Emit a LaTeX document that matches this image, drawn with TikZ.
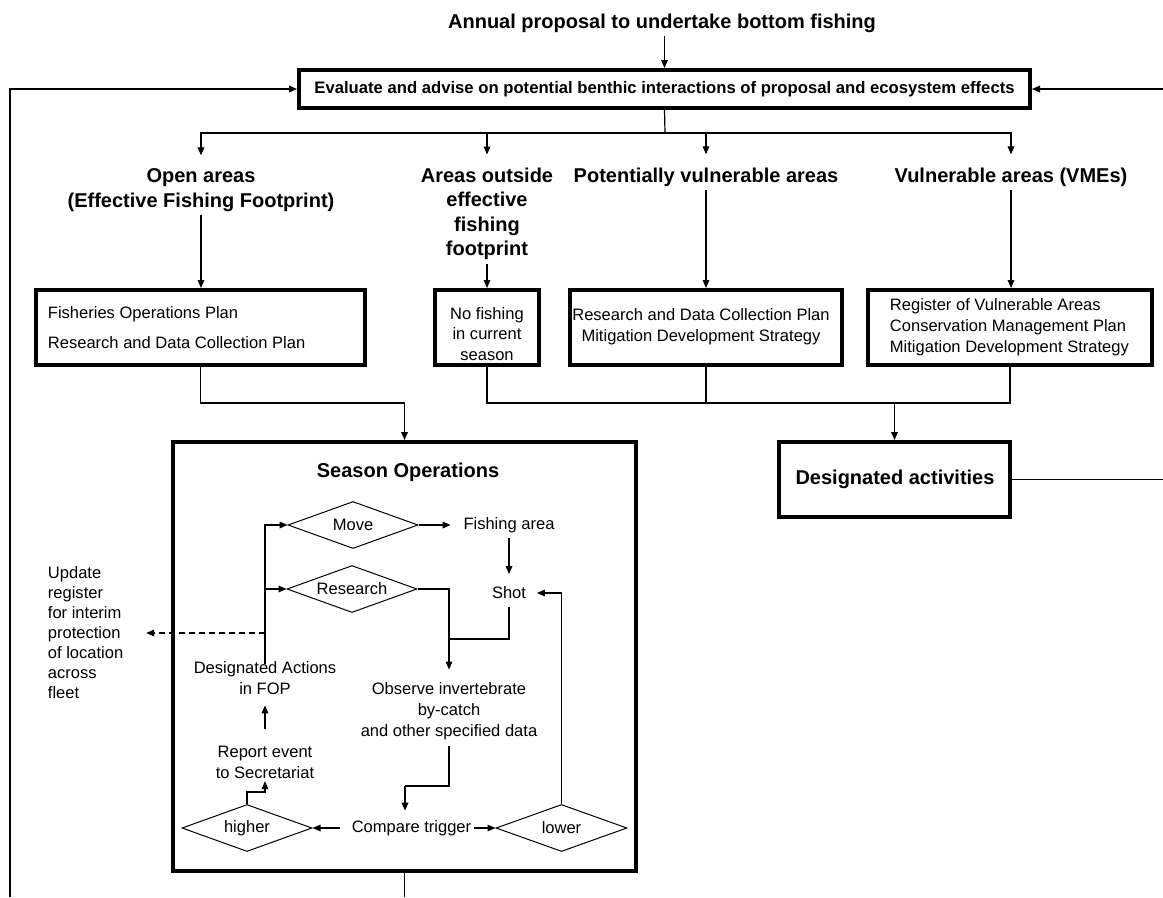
\documentclass[tikz,border=0pt]{standalone}
\usepackage{fontspec}
\setmainfont{Liberation Sans}
\usetikzlibrary{arrows.meta,fit,shapes.geometric}
\begin{document}
\begin{tikzpicture}[x=0.75pt,y=-0.75pt,
 hdr/.style={font=\bfseries\fontsize{15}{18.4}\selectfont, align=center, inner sep=0pt, outer sep=3pt},
 txt/.style={font=\fontsize{12.4}{15.6}\selectfont, align=center, inner sep=2pt},
 tbox/.style={draw, line width=3pt, inner sep=0pt},
 dia/.style={draw, diamond, aspect=2.77, line width=0.75pt, minimum width=97.5pt, minimum height=35.25pt, inner sep=0pt, font=\fontsize{12.4}{15.6}\selectfont},
 ln/.style={line width=0.9pt},
 arr/.style={line width=0.9pt, -{Triangle[length=6pt,width=5pt]}}]

\useasboundingbox (0,0) rectangle (1163,897);
\fill[white] (0,0) rectangle (1163,897);

% top
\node[hdr] (title) at (662,23) {Annual proposal to undertake bottom fishing};
\node[tbox, fit={(299,70) (1030,108)}] (eval) {};
\node[font=\bfseries\fontsize{12.5}{15}\selectfont, inner sep=0pt] (evaltxt) at (eval.center) {Evaluate and advise on potential benthic interactions of proposal and ecosystem effects};

% headers
\node[hdr] (open) at (201,190) {Open areas\\(Effective Fishing Footprint)};
\node[hdr] (outside) at (487,214) {Areas outside\\effective\\fishing\\footprint};
\node[hdr] (pot) at (706,177) {Potentially vulnerable areas};
\node[hdr] (vme) at (1011,177) {Vulnerable areas (VMEs)};

% second row boxes
\node[tbox, fit={(36,290) (365,365)}] (fop) {};
\node[txt, anchor=west, align=left, font=\fontsize{12.4}{22.5}\selectfont] (foptxt) at (45,328) {Fisheries Operations Plan\\Research and Data Collection Plan};
\node[tbox, fit={(435,290) (539,365)}] (nofish) {};
\node[txt] (nofishtxt) at (487,334) {No fishing\\in current\\season};
\node[tbox, fit={(570,290) (842,365)}] (box3) {};
\node[txt] (box3txt) at (701,327) {Research and Data Collection Plan\\Mitigation Development Strategy};
\node[tbox, fit={(868,290) (1152,365)}] (vmebox) {};
\node[txt, anchor=west, align=left] (vmetxt) at (887,327) {Register of Vulnerable Areas\\Conservation Management Plan\\Mitigation Development Strategy};

% season operations
\node[tbox, fit={(173,442) (636,871)}] (season) {};
\node[hdr, outer sep=0pt] (stitle) at (408,472) {Season Operations};
\node[tbox, fit={(779,442) (1010,517)}] (desig) {};
\node[hdr, outer sep=0pt] (desigtxt) at (895,479) {Designated activities};

\node[dia] (move) at (353,525) {Move};
\node[dia] (research) at (352,589) {Research};
\node[dia] (higher) at (247,828) {higher};
\node[dia, minimum width=98.25pt] (lower) at (561.5,828) {lower};

\node[txt] (fish) at (509,525) {Fishing area};
\node[txt] (shot) at (509,593) {Shot};
\node[txt] (obs) at (449,711) {Observe invertebrate\\by-catch\\and other specified data};
\node[txt] (cmp) at (411.5,828) {Compare trigger};
\node[txt] (report) at (265,762) {Report event\\to Secretariat};
\node[txt] (desact) at (265,678) {Designated Actions\\in FOP};
\node[txt, anchor=west, align=left, font=\fontsize{12.4}{15}\selectfont] (update) at (45,633) {Update\\register\\for interim\\protection\\of location\\across\\fleet};

% coordinates
\coordinate (lb) at (10,897);
\coordinate (rt) at (1163,89);
\coordinate (rd) at (1163,480);
\coordinate (br) at (665,133);
\coordinate (fj) at (404.5,403);
\coordinate (dj) at (894.5,403);
\coordinate (sj) at (449,639);
\coordinate (oj) at (405,786);
\coordinate (hj) at (247,792);
\coordinate (dsh) at (265,633);
\coordinate (sb) at (404.5,897);

% outer connectors
\draw[arr] (title.south -| eval.north) -- (eval.north);
\draw[arr] (lb) |- (eval.west);
\draw[arr] (rt) -- (eval.east);
\draw[ln] (desig.east) -- (desig.east -| rd);
\draw[ln] (eval.south) -- (br);
\draw[arr, shorten >=7pt] (br) -| (open.north);
\draw[arr, shorten >=7pt] (br) -| (outside.north);
\draw[arr, shorten >=7pt] (br) -| (pot.north);
\draw[arr, shorten >=7pt] (br) -| (vme.north);
\draw[arr] (open.south) -- (open.south |- fop.north);
\draw[arr] (outside.south) -- (outside.south |- nofish.north);
\draw[arr] (pot.south) -- (pot.south |- box3.north);
\draw[arr] (vme.south) -- (vme.south |- vmebox.north);
\draw[arr] (fop.south) |- (fj) -- (season.north);
\draw[ln] (nofish.south) |- (dj);
\draw[ln] (box3.south) -- (box3.south |- dj);
\draw[ln] (vmebox.south) |- (dj);
\draw[arr] (dj) -- (desig.north);
\draw[ln] (season.south) -- (sb);

% inner connectors
\draw[arr, shorten >=7.5pt] (move.east) -- (fish.west);
\draw[arr, shorten <=2pt, shorten >=7.5pt] (fish.south) -- (shot.north);
\draw[arr, shorten >=7.5pt] (research.east) -| (obs.north);
\draw[ln, shorten <=4pt] (shot.south) |- (sj);
\draw[ln, shorten <=3pt] (obs.south) |- (oj);
\draw[arr, shorten >=5pt] (oj) -- (oj |- cmp.north);
\draw[arr, shorten <=7pt] (cmp.west) -- (higher.east);
\draw[arr] (cmp.east) -- (lower.west);
\draw[arr, shorten >=6pt] (lower.north) |- (shot.east);
\draw[arr] (higher.north) -- (hj) -| (report.south);
\draw[arr, shorten <=10.5pt, shorten >=6pt] (report.north) -- (desact.south);
\draw[arr, shorten <=-4pt] (desact.north) |- (move.west);
\draw[arr, shorten <=-4pt] (desact.north) |- (research.west);
\draw[arr, dashed, dash pattern=on 4.5pt off 3pt, shorten >=15pt] (dsh) -- (update.east);
\end{tikzpicture}
\end{document}
